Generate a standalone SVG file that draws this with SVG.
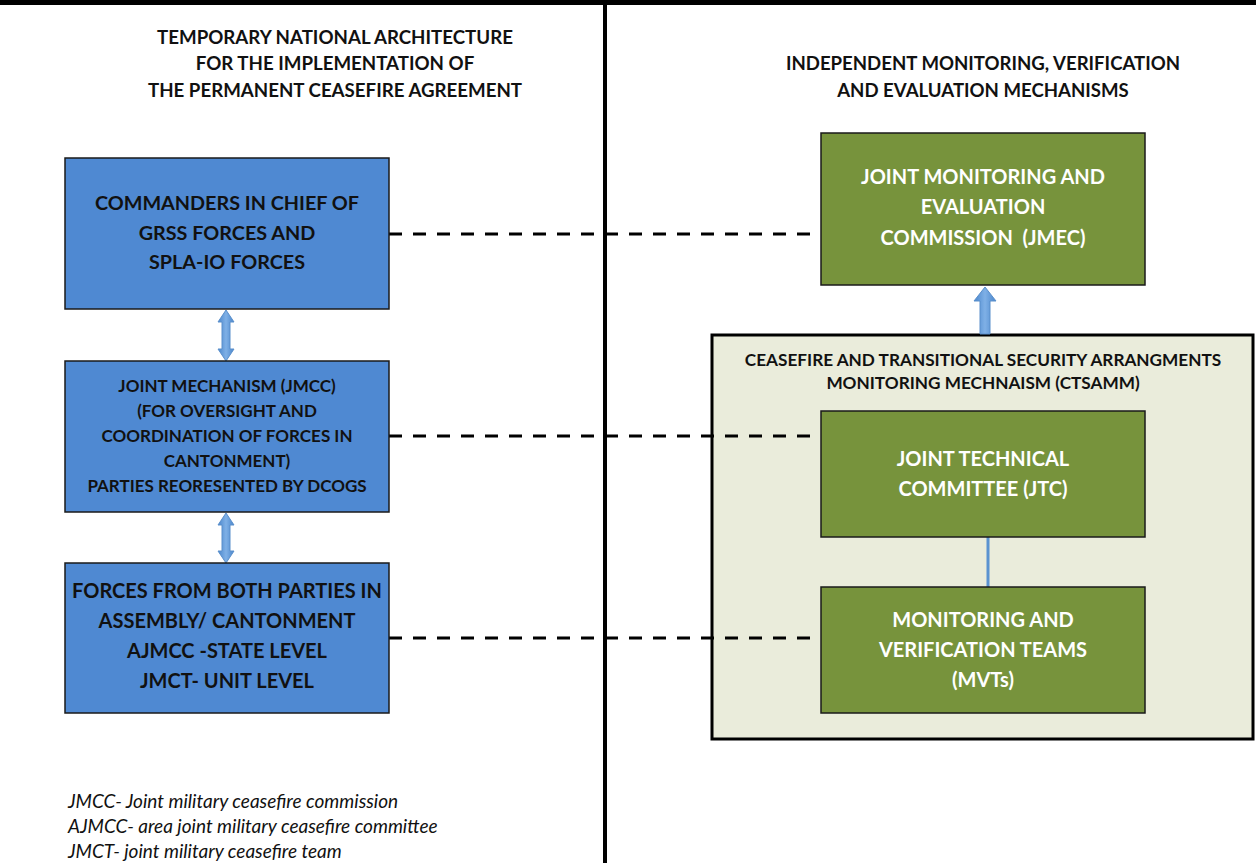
<svg xmlns="http://www.w3.org/2000/svg" width="1256" height="863" viewBox="0 0 1256 863">
<defs>
<linearGradient id="arrowGrad" x1="0" y1="0" x2="1" y2="0">
<stop offset="0" stop-color="#4A86CC"/>
<stop offset="0.5" stop-color="#7FB0E6"/>
<stop offset="1" stop-color="#4A86CC"/>
</linearGradient>
</defs>
<style>
.blue{fill:#4F89D2;stroke:#1a1a1a;stroke-width:1.5}
.green{fill:#77933C;stroke:#1a1a1a;stroke-width:1.5}
.container{fill:#EAECDB;stroke:#000;stroke-width:3}
.t{font-family:Lato,"Open Sans","Liberation Sans",sans-serif;font-weight:bold;text-anchor:middle}
.dark{fill:#111}
.white{fill:#fff}
.dash{stroke:#000;stroke-width:3;stroke-dasharray:13 11;fill:none}
.arrow{fill:url(#arrowGrad);stroke:#5A8FCB;stroke-width:1}
.legend{font-family:Lato,"Open Sans","Liberation Sans",sans-serif;font-style:italic;font-size:19px;fill:#111}
</style>
<rect width="1256" height="863" fill="#fff"/>
<line x1="0" y1="2.5" x2="1256" y2="2.5" stroke="#000" stroke-width="5"/>
<line x1="605" y1="0" x2="605" y2="863" stroke="#000" stroke-width="4"/>

<g id="title-left">
<text class="t dark" font-size="18.7" x="335" y="44">TEMPORARY NATIONAL ARCHITECTURE</text>
<text class="t dark" font-size="18.7" x="335" y="70">FOR THE IMPLEMENTATION OF</text>
<text class="t dark" font-size="18.7" x="335" y="97">THE PERMANENT CEASEFIRE AGREEMENT</text>
</g>
<g id="title-right">
<text class="t dark" font-size="18.6" x="983" y="70">INDEPENDENT MONITORING, VERIFICATION</text>
<text class="t dark" font-size="18.6" x="983" y="97">AND EVALUATION MECHANISMS</text>
</g>

<g id="ctsamm">
<rect class="container" x="712" y="335" width="541" height="404"/>
<text class="t dark" font-size="17.2" x="983" y="366">CEASEFIRE AND TRANSITIONAL SECURITY ARRANGMENTS</text>
<text class="t dark" font-size="17.2" x="983" y="389">MONITORING MECHNAISM (CTSAMM)</text>
</g>

<g id="connectors">
<line class="dash" x1="389" y1="234" x2="821" y2="234"/>
<line class="dash" x1="389" y1="436" x2="821" y2="436"/>
<line class="dash" x1="389" y1="638" x2="821" y2="638"/>
<path class="arrow" d="M226,310 L234,322 L230,322 L230,349 L234,349 L226,361 L218,349 L222,349 L222,322 L218,322 Z"/>
<path class="arrow" d="M226,513 L234,525 L230,525 L230,551 L234,551 L226,563 L218,551 L222,551 L222,525 L218,525 Z"/>
<path class="arrow" d="M985,287 L996,301 L990,301 L990,334 L980,334 L980,301 L974,301 Z"/>
<line x1="988" y1="537" x2="988" y2="587" stroke="#5B93D0" stroke-width="3"/>
</g>

<g id="commanders">
<rect class="blue" x="65" y="158" width="324" height="151"/>
<text class="t dark" font-size="19.8" x="227" y="210">COMMANDERS IN CHIEF OF</text>
<text class="t dark" font-size="19.8" x="227" y="240">GRSS FORCES AND</text>
<text class="t dark" font-size="19.8" x="227" y="269">SPLA-IO FORCES</text>
</g>
<g id="jmcc">
<rect class="blue" x="65" y="361" width="324" height="151"/>
<text class="t dark" font-size="17" x="227" y="392">JOINT MECHANISM (JMCC)</text>
<text class="t dark" font-size="17" x="227" y="417">(FOR OVERSIGHT AND</text>
<text class="t dark" font-size="17" x="227" y="442">COORDINATION OF FORCES IN</text>
<text class="t dark" font-size="17" x="227" y="467">CANTONMENT)</text>
<text class="t dark" font-size="17" x="227" y="492">PARTIES REORESENTED BY DCOGS</text>
</g>
<g id="forces">
<rect class="blue" x="65" y="563" width="324" height="150"/>
<text class="t dark" font-size="20" x="227" y="598">FORCES FROM BOTH PARTIES IN</text>
<text class="t dark" font-size="20" x="227" y="628">ASSEMBLY/ CANTONMENT</text>
<text class="t dark" font-size="20" x="227" y="658">AJMCC -STATE LEVEL</text>
<text class="t dark" font-size="20" x="227" y="688">JMCT- UNIT LEVEL</text>
</g>

<g id="jmec">
<rect class="green" x="821" y="133" width="324" height="152"/>
<text class="t white" font-size="20" x="983" y="184">JOINT MONITORING AND</text>
<text class="t white" font-size="20" x="983" y="214">EVALUATION</text>
<text class="t white" font-size="20" x="983" y="245" xml:space="preserve">COMMISSION  (JMEC)</text>
</g>

<g id="jtc">
<rect class="green" x="821" y="411" width="324" height="126"/>
<text class="t white" font-size="20" x="983" y="466">JOINT TECHNICAL</text>
<text class="t white" font-size="20" x="983" y="496">COMMITTEE (JTC)</text>
</g>
<g id="mvt">
<rect class="green" x="821" y="587" width="324" height="126"/>
<text class="t white" font-size="20" x="983" y="627">MONITORING AND</text>
<text class="t white" font-size="20" x="983" y="657">VERIFICATION TEAMS</text>
<text class="t white" font-size="20" x="983" y="687">(MVTs)</text>
</g>

<g id="legend">
<text class="legend" x="68" y="808">JMCC- Joint military ceasefire commission</text>
<text class="legend" x="68" y="833">AJMCC- area joint military ceasefire committee</text>
<text class="legend" x="68" y="858">JMCT- joint military ceasefire team</text>
</g>
</svg>
